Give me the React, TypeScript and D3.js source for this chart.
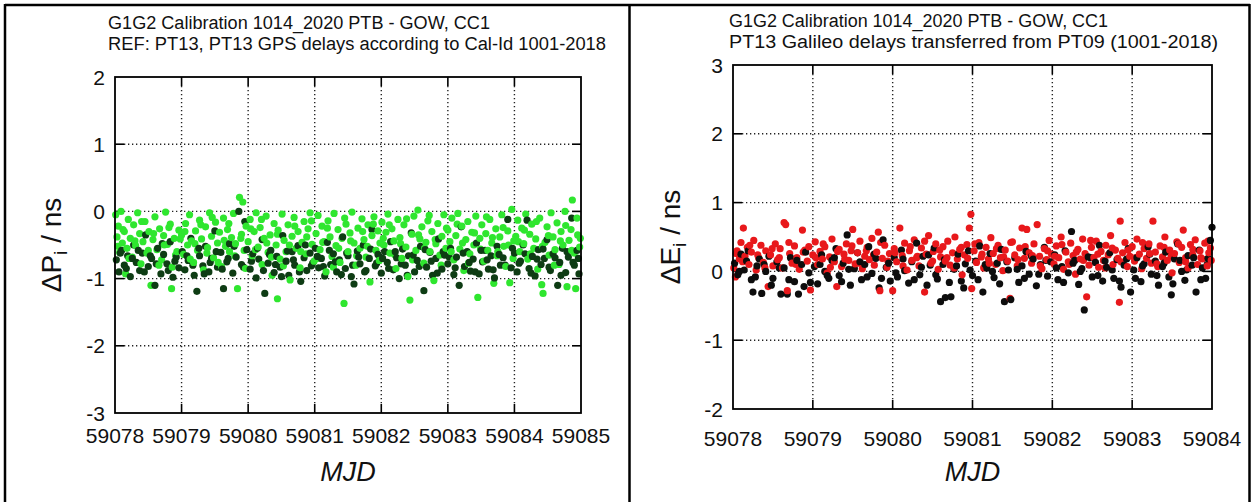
import React from "react";
import * as d3 from "d3";

// ---- data (MJD offsets in days from 59078, delay differences in ns) ----
const BASE_MJD = 59078;

const gpsBright: [number, number][] = [
  [0.01,-0.05],[0.03,-0.38],[0.05,-0.22],[0.07,-0.61],[0.09,0.0],[0.11,-0.47],[0.14,-0.3],[0.16,-0.93],[0.18,-0.55],[0.2,-0.12],[0.23,-0.4],[0.26,-0.68],[0.28,-0.2],[0.31,-0.51],[0.34,-0.02],[0.37,-0.33],[0.39,-0.78],[0.42,-0.45],[0.45,-0.15],[0.48,-0.62],[0.51,-0.3],[0.54,-1.1],[0.57,-0.42],[0.6,-0.08],[0.63,-0.57],[0.67,-0.26],[0.7,-0.72],[0.73,-0.36],[0.76,-0.01],[0.79,-0.49],[0.83,-0.19],[0.85,-1.15],[0.86,-0.83],[0.89,-0.4],[0.93,-0.6],[0.96,-0.28],
  [1.0,-0.35],[1.03,-0.64],[1.06,-0.18],[1.09,-0.5],[1.12,-0.05],[1.15,-0.44],[1.18,-0.76],[1.21,-0.29],[1.24,-0.58],[1.27,-0.13],[1.3,-0.41],[1.33,-0.87],[1.36,-0.23],[1.39,-0.54],[1.42,-0.02],[1.45,-0.37],[1.48,-0.69],[1.51,-0.16],[1.54,-0.47],[1.57,-0.31],[1.6,-0.82],[1.63,-0.1],[1.66,-0.52],[1.69,-0.27],[1.72,-0.6],[1.75,-0.39],[1.78,-0.03],[1.81,-0.48],[1.84,-1.15],[1.87,0.21],[1.9,-0.34],[1.92,0.14],[1.94,-0.58],[1.97,-0.22],
  [2.0,-0.45],[2.03,-0.12],[2.06,-0.66],[2.09,-0.3],[2.12,-0.02],[2.15,-0.53],[2.18,-0.24],[2.21,-0.79],[2.24,-0.4],[2.27,-0.07],[2.3,-0.61],[2.33,-0.35],[2.36,-0.95],[2.39,-0.18],[2.42,-0.5],[2.44,-1.3],[2.45,-0.28],[2.48,-0.71],[2.51,-0.04],[2.54,-0.43],[2.57,-0.6],[2.6,-0.2],[2.63,-1.02],[2.66,-0.37],[2.69,-0.09],[2.72,-0.55],[2.75,-0.3],[2.78,-0.84],[2.81,-0.46],[2.84,-0.15],[2.87,-0.63],[2.9,-0.26],[2.93,-0.02],[2.96,-0.49],[2.99,-0.74],
  [3.02,-0.33],[3.05,-0.06],[3.08,-0.57],[3.11,-0.22],[3.14,-0.45],[3.17,-0.9],[3.2,-0.14],[3.23,-0.38],[3.26,-0.67],[3.29,-0.03],[3.32,-0.51],[3.35,-0.27],[3.38,-0.76],[3.41,-0.4],[3.44,-1.37],[3.47,-0.19],[3.5,-0.6],[3.53,-0.32],[3.56,-0.01],[3.59,-0.47],[3.62,-0.8],[3.65,-0.25],[3.68,-0.55],[3.71,-0.11],[3.74,-0.42],[3.77,-0.68],[3.8,-0.2],[3.83,-1.05],[3.86,-0.36],[3.89,-0.08],[3.92,-0.58],[3.95,-0.29],[3.98,-0.47],
  [4.01,-0.16],[4.04,-0.5],[4.07,-0.31],[4.1,-0.04],[4.13,-0.62],[4.16,-0.26],[4.19,-0.44],[4.22,-0.85],[4.25,-0.12],[4.28,-0.39],[4.31,-0.7],[4.34,-0.2],[4.37,-0.53],[4.4,-0.97],[4.43,-1.32],[4.46,-0.34],[4.49,-0.07],[4.52,-0.58],[4.55,0.02],[4.58,-0.41],[4.61,-0.23],[4.64,-0.77],[4.67,-0.46],[4.7,-0.14],[4.73,-0.6],[4.76,-0.3],[4.79,-1.03],[4.82,-0.48],[4.85,-0.18],[4.88,-0.65],[4.91,-0.37],[4.94,-0.05],[4.97,-0.55],
  [5.0,-0.28],[5.03,-0.45],[5.06,-0.1],[5.09,-0.72],[5.12,-0.36],[5.15,-0.03],[5.18,-0.56],[5.21,-0.22],[5.24,-0.88],[5.27,-0.42],[5.3,-0.15],[5.33,-0.63],[5.36,-0.31],[5.39,-0.5],[5.42,-0.07],[5.45,-1.28],[5.48,-0.4],[5.51,-0.2],[5.54,-0.74],[5.57,-0.33],[5.6,-0.58],[5.63,-0.12],[5.66,-0.47],[5.69,-1.07],[5.72,-0.26],[5.75,-0.6],[5.78,-0.38],[5.81,-0.05],[5.84,-0.52],[5.87,-0.82],[5.9,-0.29],[5.93,-1.06],[5.96,0.03],[5.99,-0.44],
  [6.02,-0.37],[6.05,-0.13],[6.08,-0.6],[6.11,-0.25],[6.14,-0.48],[6.17,-0.04],[6.2,-0.71],[6.23,-0.34],[6.26,-0.19],[6.29,-0.55],[6.32,-0.41],[6.35,-0.86],[6.38,-0.1],[6.41,-1.09],[6.43,-1.22],[6.46,-0.46],[6.49,-0.23],[6.52,-0.65],[6.55,-0.02],[6.58,-0.38],[6.61,-0.57],[6.64,-0.17],[6.67,-0.79],[6.7,-0.3],[6.73,-0.5],[6.76,0.0],[6.79,-1.12],[6.82,-0.43],[6.85,-0.27],[6.87,0.17],[6.9,-0.62],[6.92,-1.15],[6.95,-0.35],[6.98,-0.53],
];

const gpsBrightB: [number, number][] = [
  [0.04,-0.52],[0.12,-0.27],[0.21,-0.7],[0.3,-0.44],[0.4,-0.15],[0.5,-0.58],[0.58,-0.33],[0.66,-0.8],[0.74,-0.5],[0.81,-0.24],[0.91,-0.65],[0.98,-0.41],
  [1.05,-0.3],[1.13,-0.71],[1.2,-0.48],[1.29,-0.2],[1.38,-0.62],[1.46,-0.09],[1.55,-0.76],[1.64,-0.43],[1.71,-0.18],[1.8,-0.66],[1.89,-0.4],[1.96,-0.85],
  [2.04,-0.26],[2.11,-0.57],[2.2,-0.12],[2.28,-0.47],[2.35,-0.68],[2.44,-0.34],[2.53,-0.81],[2.62,-0.5],[2.7,-0.22],[2.79,-0.6],[2.88,-0.38],[2.95,-0.14],
  [3.03,-0.7],[3.12,-0.46],[3.19,-0.25],[3.28,-0.83],[3.36,-0.55],[3.45,-0.1],[3.54,-0.44],[3.63,-0.66],[3.72,-0.3],[3.79,-0.52],[3.88,-0.19],[3.97,-0.73],
  [4.03,-0.4],[4.12,-0.2],[4.2,-0.64],[4.29,-0.48],[4.38,-0.11],[4.47,-0.72],[4.56,-0.35],[4.65,-0.55],[4.72,-0.06],[4.81,-0.42],[4.9,-0.8],[4.98,-0.25],
  [5.05,-0.6],[5.14,-0.19],[5.22,-0.47],[5.31,-0.77],[5.4,-0.32],[5.49,-0.56],[5.58,-0.08],[5.67,-0.39],[5.74,-0.66],[5.83,-0.24],[5.91,-0.5],[5.98,-0.7],
  [6.06,-0.45],[6.15,-0.28],[6.24,-0.63],[6.33,-0.15],[6.42,-0.52],[6.51,-0.36],[6.6,-0.8],[6.69,-0.44],[6.77,-0.21],[6.86,-0.58],[6.94,-0.1],[6.99,-0.4],
];

const gpsDark: [number, number][] = [
  [0.02,-0.72],[0.06,-0.9],[0.1,-0.58],[0.14,-0.8],[0.19,-0.66],[0.23,-0.97],[0.28,-0.5],[0.32,-0.76],[0.37,-0.88],[0.41,-0.62],[0.46,-0.35],[0.5,-0.82],[0.55,-0.7],[0.6,-1.1],[0.64,-0.55],[0.69,-0.93],[0.73,-0.64],[0.78,-0.78],[0.83,-0.45],[0.87,-0.98],[0.92,-0.68],[0.96,-0.84],
  [1.01,-0.6],[1.05,-0.87],[1.1,-0.73],[1.14,-0.4],[1.19,-0.95],[1.23,-1.19],[1.27,-0.66],[1.32,-0.81],[1.36,-0.52],[1.41,-0.9],[1.45,-0.7],[1.5,-0.29],[1.54,-0.83],[1.59,-0.61],[1.63,-1.15],[1.68,-0.75],[1.72,-0.48],[1.77,-0.92],[1.82,-0.68],[1.86,0.0],[1.9,-0.79],[1.95,-0.15],[1.98,-0.57],
  [2.03,-0.86],[2.07,-0.63],[2.12,-0.99],[2.16,-0.71],[2.21,-0.42],[2.25,-1.22],[2.3,-0.77],[2.34,-0.58],[2.39,-0.91],[2.43,-0.67],[2.48,-0.83],[2.52,-0.36],[2.57,-0.74],[2.61,-0.95],[2.66,-0.6],[2.7,-0.8],[2.75,-0.51],[2.79,-1.04],[2.84,-0.69],[2.88,-0.88],[2.93,-0.62],[2.97,-0.77],
  [3.01,-0.55],[3.06,-0.84],[3.1,-0.7],[3.15,-0.96],[3.19,-0.46],[3.24,-0.79],[3.28,-0.63],[3.33,-0.9],[3.37,-0.72],[3.42,-0.38],[3.46,-0.85],[3.5,-0.66],[3.55,-0.97],[3.59,-1.08],[3.64,-0.59],[3.68,-0.78],[3.73,-0.5],[3.77,-0.88],[3.82,-0.7],[3.86,-0.27],[3.91,-0.81],[3.95,-0.64],
  [4.0,-0.92],[4.05,-0.6],[4.09,-0.76],[4.14,-0.45],[4.18,-0.87],[4.23,-0.69],[4.27,-1.0],[4.32,-0.56],[4.36,-0.8],[4.41,-0.66],[4.45,-0.32],[4.5,-0.9],[4.54,-0.73],[4.59,-0.52],[4.64,-1.18],[4.68,-0.83],[4.73,-0.61],[4.77,-0.95],[4.82,-0.7],[4.86,-0.41],[4.91,-0.86],[4.95,-0.65],
  [5.0,-0.78],[5.04,-0.55],[5.09,-0.94],[5.13,-0.68],[5.17,-1.1],[5.2,-0.23],[5.25,-0.82],[5.29,-0.6],[5.34,-0.89],[5.38,-0.71],[5.43,-0.47],[5.47,-0.93],[5.52,-0.75],[5.56,-0.58],[5.61,-0.86],[5.65,-0.66],[5.7,-0.99],[5.74,-0.52],[5.79,-0.8],[5.83,-0.69],[5.9,-0.12],[5.95,-0.84],
  [6.0,-0.62],[6.04,-0.9],[6.09,-0.74],[6.13,-0.5],[6.19,-0.13],[6.22,-0.85],[6.27,-0.67],[6.31,-0.96],[6.36,-0.57],[6.4,-0.79],[6.45,-0.7],[6.49,-0.42],[6.54,-0.88],[6.58,-0.63],[6.65,-1.1],[6.68,-0.76],[6.72,-0.55],[6.77,-0.91],[6.81,-0.68],[6.86,-0.1],[6.9,-0.8],[6.94,-0.58],[6.97,-0.93],
];

const gpsDarkB: [number, number][] = [
  [0.08,-0.62],[0.17,-0.85],[0.26,-0.7],[0.35,-0.58],[0.44,-0.9],[0.53,-0.66],[0.62,-0.78],[0.71,-0.48],[0.8,-0.88],[0.9,-0.74],
  [1.08,-0.66],[1.17,-0.8],[1.26,-0.55],[1.34,-0.93],[1.43,-0.76],[1.52,-0.6],[1.61,-0.86],[1.7,-0.7],[1.79,-0.52],[1.93,-0.83],
  [2.05,-0.74],[2.14,-0.55],[2.23,-0.88],[2.32,-0.64],[2.41,-0.79],[2.5,-0.97],[2.59,-0.59],[2.68,-0.72],[2.77,-0.9],[2.86,-0.5],[2.95,-0.81],
  [3.04,-0.67],[3.13,-0.82],[3.22,-0.58],[3.31,-0.75],[3.4,-0.94],[3.48,-0.62],[3.57,-0.8],[3.66,-0.68],[3.75,-0.9],[3.84,-0.56],[3.93,-0.77],
  [4.02,-0.7],[4.11,-0.85],[4.21,-0.6],[4.3,-0.78],[4.39,-0.95],[4.48,-0.65],[4.57,-0.82],[4.66,-0.57],[4.75,-0.74],[4.84,-0.92],[4.93,-0.6],
  [5.02,-0.68],[5.11,-0.84],[5.23,-0.62],[5.32,-0.76],[5.41,-0.9],[5.5,-0.58],[5.59,-0.72],[5.68,-0.87],[5.77,-0.64],[5.86,-0.8],[5.97,-0.55],
  [6.07,-0.77],[6.16,-0.63],[6.25,-0.92],[6.34,-0.71],[6.43,-0.56],[6.52,-0.83],[6.61,-0.69],[6.7,-0.95],[6.79,-0.6],[6.88,-0.76],[6.96,-0.7],
];

const galRed: [number, number][] = [
  [0.01,0.05],[0.03,-0.08],[0.05,0.3],[0.08,0.18],[0.1,0.42],[0.13,0.63],[0.15,0.22],[0.18,0.35],[0.2,0.1],[0.23,0.28],[0.26,0.45],[0.29,0.02],[0.32,0.2],[0.35,0.38],[0.38,0.13],[0.41,0.3],[0.44,-0.22],[0.47,0.24],[0.5,0.08],[0.53,0.4],[0.56,0.17],[0.59,0.33],[0.62,0.05],[0.64,0.71],[0.66,0.68],[0.68,-0.28],[0.71,0.26],[0.74,0.12],[0.77,0.37],[0.8,0.2],[0.83,0.03],[0.87,0.6],[0.9,0.31],[0.93,0.15],[0.97,-0.27],
  [1.0,0.24],[1.03,0.43],[1.06,0.1],[1.09,0.29],[1.12,0.18],[1.15,0.36],[1.18,-0.02],[1.21,0.21],[1.24,0.47],[1.27,0.14],[1.3,-0.22],[1.33,0.32],[1.36,0.07],[1.39,0.25],[1.42,0.4],[1.45,0.16],[1.48,0.3],[1.5,0.61],[1.53,0.11],[1.56,0.27],[1.59,0.44],[1.62,0.04],[1.65,0.22],[1.68,0.35],[1.71,0.17],[1.74,0.48],[1.77,0.09],[1.8,0.28],[1.82,0.57],[1.84,-0.28],[1.87,0.19],[1.9,0.38],[1.93,0.06],[1.96,0.26],
  [2.0,-0.28],[2.02,0.33],[2.05,0.14],[2.09,0.63],[2.12,0.23],[2.15,0.41],[2.18,0.02],[2.21,0.3],[2.24,0.16],[2.27,0.46],[2.3,0.2],[2.33,0.08],[2.36,0.34],[2.4,-0.3],[2.42,0.25],[2.45,0.52],[2.48,0.12],[2.51,0.29],[2.54,0.4],[2.57,0.03],[2.6,0.21],[2.63,0.36],[2.66,0.15],[2.69,0.44],[2.72,0.09],[2.75,0.27],[2.78,0.5],[2.81,0.18],[2.84,0.32],[2.87,-0.05],[2.9,0.24],[2.93,0.39],[2.96,0.63],[2.98,0.83],[2.99,-0.25],
  [3.02,0.3],[3.05,0.13],[3.08,0.42],[3.11,0.21],[3.14,0.05],[3.17,0.35],[3.2,0.18],[3.23,0.49],[3.26,0.26],[3.29,0.1],[3.32,0.38],[3.35,0.2],[3.38,0.01],[3.41,0.31],[3.44,0.15],[3.47,-0.39],[3.5,0.43],[3.53,0.24],[3.56,0.08],[3.59,0.34],[3.62,0.63],[3.65,0.19],[3.68,0.61],[3.71,0.27],[3.74,0.12],[3.77,0.4],[3.81,0.68],[3.84,0.22],[3.87,0.04],[3.9,0.33],[3.93,0.17],[3.96,0.45],[3.99,0.25],
  [4.02,0.11],[4.05,0.37],[4.08,0.2],[4.11,0.5],[4.14,0.03],[4.17,0.28],[4.2,0.14],[4.23,0.41],[4.26,0.23],[4.29,-0.04],[4.32,0.32],[4.35,0.18],[4.38,0.47],[4.41,0.26],[4.43,-0.37],[4.46,0.09],[4.49,0.35],[4.52,0.2],[4.55,0.44],[4.58,0.06],[4.61,0.29],[4.64,0.16],[4.67,0.38],[4.7,0.24],[4.73,0.52],[4.76,0.1],[4.79,0.31],[4.82,0.19],[4.84,-0.45],[4.85,0.73],[4.88,0.27],[4.91,0.42],[4.94,0.07],[4.97,0.22],
  [5.0,0.36],[5.03,0.15],[5.06,0.47],[5.09,0.25],[5.12,0.04],[5.15,0.33],[5.18,0.19],[5.21,0.4],[5.24,0.12],[5.26,0.73],[5.29,0.28],[5.32,0.07],[5.35,0.37],[5.38,0.21],[5.41,0.5],[5.44,0.16],[5.47,0.31],[5.5,-0.02],[5.53,0.26],[5.56,0.43],[5.59,0.13],[5.62,0.35],[5.64,0.6],[5.67,0.2],[5.7,0.05],[5.73,0.39],[5.76,0.24],[5.79,0.46],[5.82,0.1],[5.85,0.3],[5.88,0.18],[5.91,0.41],[5.94,0.08],[5.96,0.27],[5.98,0.34],[5.99,0.16],
];

const galRedB: [number, number][] = [
  [0.04,0.26],[0.12,0.14],[0.21,0.38],[0.31,0.24],[0.4,0.05],[0.49,0.33],[0.58,0.2],[0.7,0.42],[0.79,0.1],[0.88,0.28],[0.95,0.36],
  [1.04,0.2],[1.13,0.4],[1.22,0.06],[1.31,0.29],[1.4,0.18],[1.49,0.37],[1.58,0.12],[1.67,0.3],[1.76,0.24],[1.85,0.42],[1.94,0.15],
  [2.03,0.27],[2.13,0.08],[2.22,0.36],[2.31,0.22],[2.4,0.44],[2.5,0.15],[2.59,0.31],[2.68,0.2],[2.77,0.05],[2.86,0.35],[2.94,0.19],
  [3.03,0.4],[3.12,0.25],[3.21,0.12],[3.3,0.33],[3.39,0.21],[3.48,0.42],[3.57,0.17],[3.66,0.36],[3.75,0.23],[3.85,0.08],[3.94,0.3],
  [4.03,0.22],[4.12,0.39],[4.21,0.1],[4.3,0.28],[4.39,0.16],[4.48,0.45],[4.57,0.25],[4.66,0.05],[4.75,0.34],[4.86,0.14],[4.95,0.31],
  [5.04,0.2],[5.13,0.42],[5.22,0.26],[5.31,0.11],[5.4,0.35],[5.49,0.22],[5.58,0.4],[5.67,0.14],[5.76,0.32],[5.86,0.2],[5.95,0.44],
];

const galBlack: [number, number][] = [
  [0.02,0.12],[0.06,-0.05],[0.1,0.25],[0.14,0.02],[0.19,0.3],[0.23,-0.12],[0.25,-0.3],[0.3,0.08],[0.33,0.18],[0.36,-0.32],[0.41,0.0],[0.45,0.22],[0.5,-0.1],[0.55,0.14],[0.6,-0.33],[0.64,0.05],[0.68,-0.33],[0.72,0.2],[0.77,-0.15],[0.82,-0.33],[0.86,0.1],[0.91,0.28],[0.95,-0.02],[0.97,-0.16],
  [1.02,0.07],[1.06,-0.18],[1.11,0.24],[1.15,0.0],[1.2,-0.1],[1.24,0.16],[1.29,0.33],[1.33,-0.06],[1.38,0.12],[1.43,0.53],[1.47,-0.2],[1.52,0.04],[1.56,0.27],[1.61,-0.12],[1.65,0.1],[1.7,0.36],[1.74,-0.03],[1.79,0.19],[1.83,-0.24],[1.88,0.46],[1.92,0.06],[1.97,-0.14],
  [2.02,0.2],[2.06,-0.08],[2.11,0.31],[2.15,0.01],[2.2,-0.17],[2.24,0.14],[2.3,0.41],[2.34,-0.05],[2.38,0.22],[2.43,-0.2],[2.47,0.09],[2.52,0.34],[2.56,-0.11],[2.6,-0.44],[2.65,0.17],[2.66,-0.38],[2.73,-0.37],[2.77,0.03],[2.82,0.25],[2.86,-0.14],[2.91,0.11],[2.95,0.3],
  [3.0,-0.06],[3.04,0.15],[3.09,0.37],[3.13,-0.3],[3.18,0.05],[3.22,0.26],[3.27,-0.09],[3.31,0.12],[3.36,0.32],[3.4,-0.44],[3.45,0.02],[3.48,-0.41],[3.53,0.2],[3.58,-0.16],[3.62,0.08],[3.67,0.29],[3.71,-0.04],[3.76,0.18],[3.8,-0.21],[3.85,0.1],[3.9,0.35],[3.94,-0.07],[3.98,0.14],
  [4.03,0.24],[4.07,-0.12],[4.12,0.07],[4.16,0.3],[4.2,-0.02],[4.24,0.58],[4.28,0.16],[4.33,-0.19],[4.37,0.04],[4.4,-0.56],[4.45,0.21],[4.5,-0.08],[4.54,0.13],[4.59,0.38],[4.63,-0.14],[4.68,0.06],[4.72,0.27],[4.77,-0.1],[4.81,0.17],[4.86,-0.23],[4.9,0.09],[4.95,0.33],[4.98,-0.3],
  [5.02,0.02],[5.06,0.2],[5.11,-0.15],[5.15,0.11],[5.2,0.36],[5.24,-0.04],[5.29,0.15],[5.33,-0.2],[5.38,0.07],[5.42,0.28],[5.46,-0.08],[5.49,-0.34],[5.53,0.18],[5.57,0.4],[5.62,0.0],[5.66,-0.13],[5.7,0.23],[5.75,0.09],[5.8,-0.3],[5.84,0.31],[5.88,0.05],[5.92,-0.1],[5.95,0.19],[5.98,0.45],[6.0,0.64],
];

const galBlackB: [number, number][] = [
  [0.08,0.0],[0.17,0.15],[0.28,-0.08],[0.39,0.1],[0.48,-0.2],[0.58,0.05],[0.7,-0.12],[0.8,0.16],[0.89,-0.22],
  [1.09,0.1],[1.18,-0.06],[1.27,0.2],[1.36,-0.15],[1.45,0.03],[1.59,0.14],[1.68,-0.08],[1.77,0.25],[1.86,-0.1],[1.95,0.12],
  [2.04,-0.02],[2.13,0.18],[2.27,-0.12],[2.36,0.06],[2.45,0.24],[2.54,-0.05],[2.63,0.1],[2.71,-0.16],[2.8,0.08],[2.89,-0.24],[2.97,0.02],
  [3.07,-0.12],[3.16,0.1],[3.25,0.0],[3.34,-0.18],[3.43,0.14],[3.56,0.03],[3.65,-0.1],[3.74,0.22],[3.83,-0.04],[3.92,0.16],
  [4.05,0.05],[4.14,-0.16],[4.26,0.12],[4.35,0.0],[4.48,0.2],[4.57,-0.06],[4.66,0.15],[4.75,0.02],[4.84,-0.14],[4.93,0.18],
  [5.04,-0.1],[5.13,0.08],[5.22,0.25],[5.31,-0.06],[5.4,0.12],[5.51,-0.18],[5.6,0.16],[5.68,0.02],[5.77,0.2],[5.86,-0.12],[5.94,0.1],
];

const leftXTicks = [59078, 59079, 59080, 59081, 59082, 59083, 59084, 59085];
const leftYTicks = [-3, -2, -1, 0, 1, 2];
const rightXTicks = [59078, 59079, 59080, 59081, 59082, 59083, 59084];
const rightYTicks = [-2, -1, 0, 1, 2, 3];

const leftTitle = ["G1G2 Calibration 1014_2020 PTB - GOW, CC1", "REF: PT13, PT13 GPS delays according to Cal-Id 1001-2018"];
const rightTitle = ["G1G2 Calibration 1014_2020 PTB - GOW, CC1", "PT13 Galileo delays transferred from PT09 (1001-2018)"];

const FONT = "'Liberation Sans', Arial, Helvetica, sans-serif";

type Series = { data: [number, number][]; color: string };

type PanelProps = {
  x0: number; x1: number; y0: number; y1: number;
  xTicks: number[]; yTicks: number[];
  series: Series[];
  title: string[]; titleX: number; titleY: number[]; titleW: number[];
  yLabelMain: string; yLabelX: number;
  xLabelY: number; mjdY: number;
};

function Panel(p: PanelProps) {
  const x = d3.scaleLinear().domain([p.xTicks[0], p.xTicks[p.xTicks.length - 1]]).range([p.x0, p.x1]);
  const y = d3.scaleLinear().domain([p.yTicks[0], p.yTicks[p.yTicks.length - 1]]).range([p.y1, p.y0]);
  const tl = 9;
  // interleave series by time so overlaps mix like the original
  const pts: { t: number; v: number; c: string; k: number }[] = [];
  p.series.forEach((s, si) => s.data.forEach(([t, v], i) => pts.push({ t, v, c: s.color, k: i * 10 + si })));
  pts.sort((a, b) => a.t - b.t || a.k - b.k);
  const cy = (p.y0 + p.y1) / 2;
  const cx = (p.x0 + p.x1) / 2;
  return (
    <g>
      {p.xTicks.slice(1, -1).map((t) => (
        <line key={"gx" + t} x1={x(t)} x2={x(t)} y1={p.y0 + tl} y2={p.y1 - tl} stroke="#222" strokeWidth={1.4} strokeDasharray="1.3,2.7" />
      ))}
      {p.yTicks.slice(1, -1).map((t) => (
        <line key={"gy" + t} x1={p.x0 + tl} x2={p.x1 - tl} y1={y(t)} y2={y(t)} stroke="#222" strokeWidth={1.4} strokeDasharray="1.3,2.7" />
      ))}
      {p.xTicks.slice(1, -1).map((t) => (
        <g key={"tx" + t}>
          <line x1={x(t)} x2={x(t)} y1={p.y1} y2={p.y1 - tl} stroke="#000" strokeWidth={1.6} />
          <line x1={x(t)} x2={x(t)} y1={p.y0} y2={p.y0 + tl} stroke="#000" strokeWidth={1.6} />
        </g>
      ))}
      {p.yTicks.slice(1, -1).map((t) => (
        <g key={"ty" + t}>
          <line x1={p.x0} x2={p.x0 + tl} y1={y(t)} y2={y(t)} stroke="#000" strokeWidth={1.6} />
          <line x1={p.x1} x2={p.x1 - tl} y1={y(t)} y2={y(t)} stroke="#000" strokeWidth={1.6} />
        </g>
      ))}
      {pts.map((d, i) => (
        <circle key={i} cx={x(BASE_MJD + d.t)} cy={y(d.v)} r={3.6} fill={d.c} />
      ))}
      <rect x={p.x0} y={p.y0} width={p.x1 - p.x0} height={p.y1 - p.y0} fill="none" stroke="#000" strokeWidth={1.8} />
      {p.xTicks.map((t) => (
        <text key={"lx" + t} x={x(t)} y={p.xLabelY} textAnchor="middle" fontSize={21} fontFamily={FONT} fill="#111">{t}</text>
      ))}
      {p.yTicks.map((t) => (
        <text key={"ly" + t} x={p.x0 - 10} y={y(t) + 7.5} textAnchor="end" fontSize={21} fontFamily={FONT} fill="#111">{t}</text>
      ))}
      <text x={cx} y={p.mjdY} textAnchor="middle" fontSize={27} fontStyle="italic" fontFamily={FONT} fill="#111">MJD</text>
      <text transform={`translate(${p.yLabelX},${cy}) rotate(-90)`} textAnchor="middle" fontSize={28} fontFamily={FONT} fill="#111">
        {"\u0394" + p.yLabelMain}
        <tspan fontSize={19} dy={6}>i</tspan>
        <tspan dy={-6}>{" / ns"}</tspan>
      </text>
      {p.title.map((s, i) => (
        <text key={"t" + i} x={p.titleX} y={p.titleY[i]} fontSize={18} fontFamily={FONT} fill="#111" textLength={p.titleW[i]} lengthAdjust="spacingAndGlyphs">{s}</text>
      ))}
    </g>
  );
}

export default function App() {
  return (
    <svg width={1253} height={502} style={{ position: "absolute", left: 0, top: 0, background: "#fff" }}>
      <rect x={0} y={0} width={1253} height={502} fill="#fff" />
      <line x1={5} x2={1250} y1={5} y2={5} stroke="#000" strokeWidth={2.5} />
      <line x1={5} x2={5} y1={4} y2={502} stroke="#000" strokeWidth={2.5} />
      <line x1={629.5} x2={629.5} y1={4} y2={502} stroke="#000" strokeWidth={2.5} />
      <line x1={1249.5} x2={1249.5} y1={4} y2={502} stroke="#000" strokeWidth={2.5} />
      <Panel
        x0={115} x1={581} y0={77} y1={413}
        xTicks={leftXTicks} yTicks={leftYTicks}
        series={[{ data: gpsDark.concat(gpsDarkB), color: "#0e3c14" }, { data: gpsBright.concat(gpsBrightB), color: "#2fe62f" }]}
        title={leftTitle} titleX={108} titleY={[29, 50]} titleW={[382, 498]}
        yLabelMain="P" yLabelX={61}
        xLabelY={443} mjdY={481}
      />
      <Panel
        x0={733} x1={1212} y0={65} y1={409}
        xTicks={rightXTicks} yTicks={rightYTicks}
        series={[{ data: galBlack.concat(galBlackB), color: "#0d0d0d" }, { data: galRed.concat(galRedB), color: "#e8181b" }]}
        title={rightTitle} titleX={729} titleY={[27, 48]} titleW={[379, 489]}
        yLabelMain="E" yLabelX={680}
        xLabelY={446} mjdY={481}
      />
    </svg>
  );
}
